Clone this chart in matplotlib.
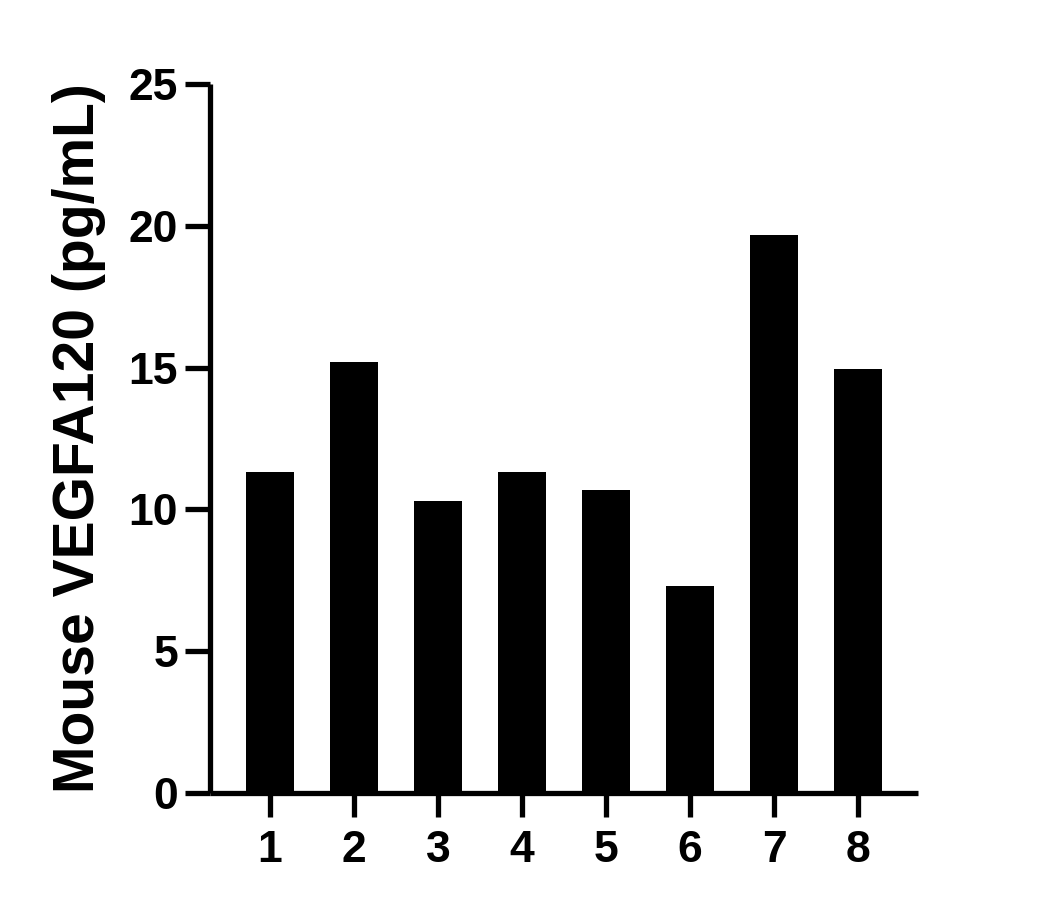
import matplotlib
matplotlib.use("Agg")
import matplotlib.pyplot as plt

plt.rcParams["font.family"] = ["Liberation Sans", "DejaVu Sans"]
plt.rcParams["font.weight"] = "bold"

samples = ["1", "2", "3", "4", "5", "6", "7", "8"]
values = [11.32, 15.20, 10.30, 11.32, 10.68, 7.30, 19.68, 14.95]
y_ticks = [0, 5, 10, 15, 20, 25]

fig = plt.figure(figsize=(10.57, 9.09), dpi=100)
ax = fig.add_axes([210 / 1057, 1 - 793 / 909, (918 - 210) / 1057, (793 - 84) / 909])

positions = list(range(1, len(samples) + 1))
ax.bar(positions, values, width=0.56, color="black", edgecolor="none")

ax.set_xlim(0.286, 8.714)
ax.set_ylim(0, 25)
ax.set_yticks(y_ticks)
ax.set_xticks(positions)
ax.set_xticklabels(samples)

for side in ["top", "right"]:
    ax.spines[side].set_visible(False)
for side in ["left", "bottom"]:
    ax.spines[side].set_linewidth(3.8)
    ax.spines[side].set_capstyle("butt")

ax.tick_params(axis="y", length=18, width=3.8, pad=5, labelsize=32)
ax.tick_params(axis="x", length=17, width=3.8, pad=10, labelsize=32)
for lbl in ax.get_xticklabels() + ax.get_yticklabels():
    lbl.set_fontweight("bold")

ax.set_ylabel("Mouse VEGFA120 (pg/mL)", fontsize=41, fontweight="bold", labelpad=16)

fig.savefig("out.png", dpi=100)
